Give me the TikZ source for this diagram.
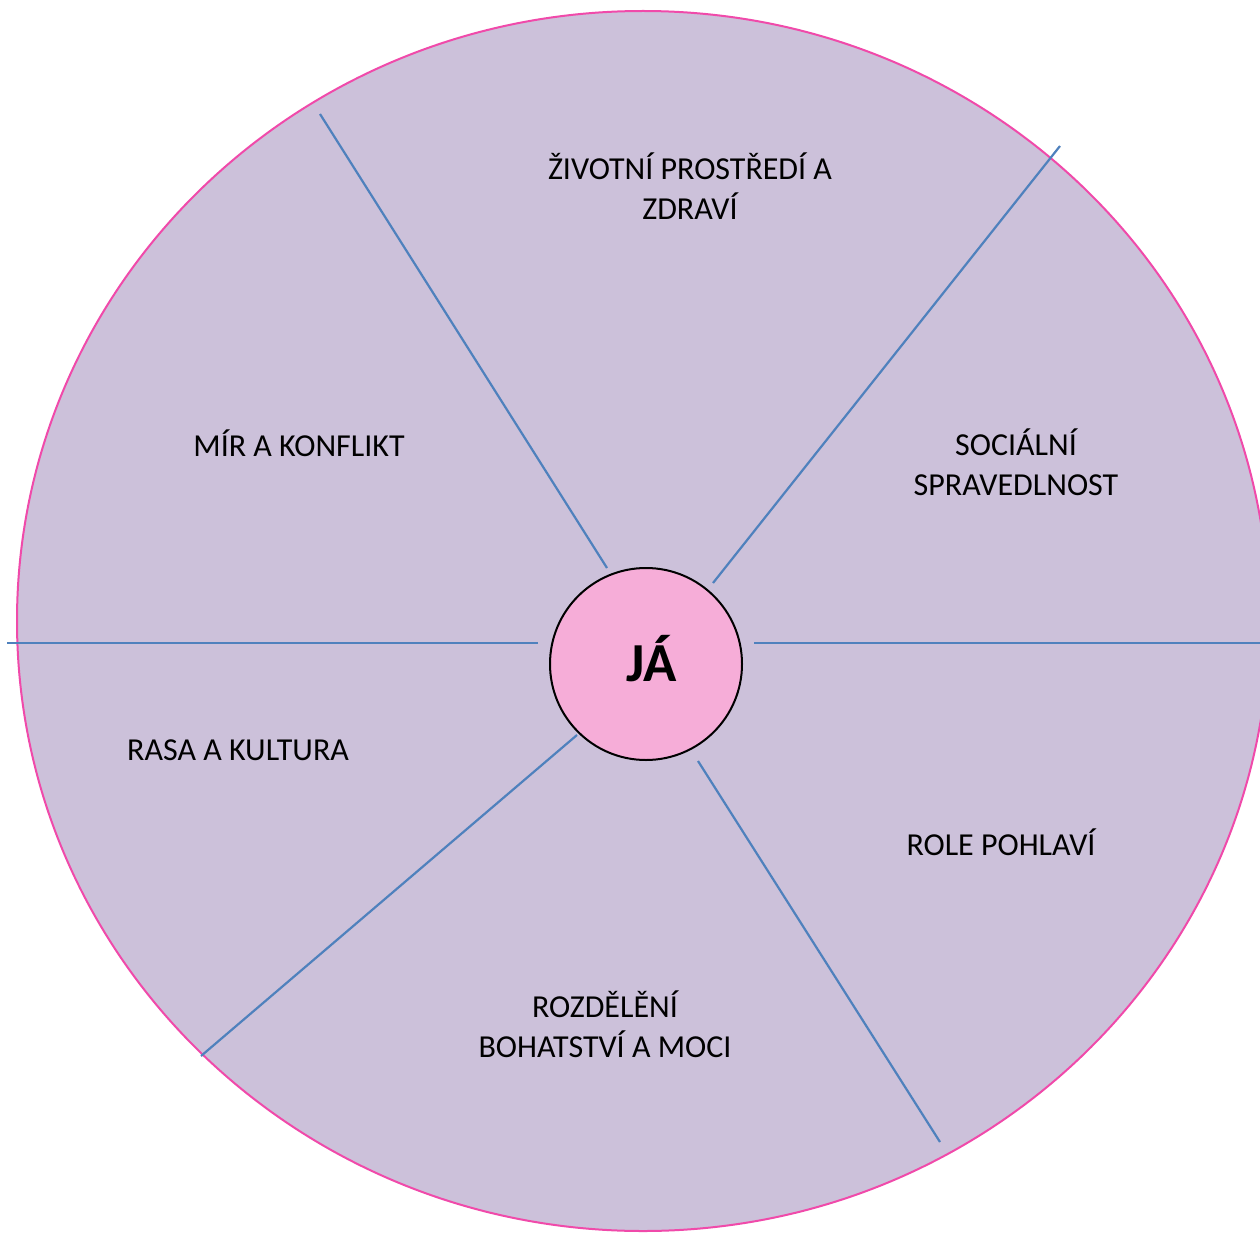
\documentclass[tikz,border=0pt]{standalone}
\usepackage{fontspec}
\setmainfont{Carlito}
\definecolor{lav}{HTML}{CCC1DA}
\definecolor{rim}{HTML}{F04AAA}
\definecolor{spoke}{HTML}{4F81BD}
\definecolor{hub}{HTML}{F6ADD8}
\tikzset{
  spokeline/.style={draw=spoke, line width=2.2pt},
  lbl/.style={font=\fontsize{32}{40}\selectfont, align=center, inner sep=0pt},
}
\begin{document}
\begin{tikzpicture}[x=1pt,y=-1pt]
\useasboundingbox (0,0) rectangle (1260,1233);
\clip (0,0) rectangle (1260,1233);
\fill[lav] (643,621) ellipse [x radius=626, y radius=610];
\draw[rim, line width=2pt] (643,621) ellipse [x radius=626, y radius=610];
% spoke end points
\coordinate (l1) at (7,643);   \coordinate (l2) at (538,643);
\coordinate (r1) at (754,643); \coordinate (r2) at (1270,643);
\coordinate (ul1) at (320,114); \coordinate (ul2) at (607,568);
\coordinate (ur1) at (1060,146); \coordinate (ur2) at (713,583);
\coordinate (ll1) at (577,735); \coordinate (ll2) at (201,1056);
\coordinate (lr1) at (698,761); \coordinate (lr2) at (940,1142);
\draw[spokeline] (l1) -- (l2);
\draw[spokeline] (r1) -- (r2);
\draw[spokeline] (ul1) -- (ul2);
\draw[spokeline] (ur1) -- (ur2);
\draw[spokeline] (ll1) -- (ll2);
\draw[spokeline] (lr1) -- (lr2);
\node[circle, draw=black, line width=2pt, fill=hub, minimum size=192pt, inner sep=0pt] (me) at (646,664) {};
\node[font=\fontsize{55}{60}\selectfont\bfseries, inner sep=0pt] (metext) at (652,659) {JÁ};
\node[lbl] (env) at (690,186) {ŽIVOTNÍ PROSTŘEDÍ A\\ZDRAVÍ};
\node[lbl] (soc) at (1016,462) {SOCIÁLNÍ\\SPRAVEDLNOST};
\node[lbl] (mir) at (299,443) {MÍR A KONFLIKT};
\node[lbl] (rasa) at (238,750) {RASA A KULTURA};
\node[lbl] (role) at (1001,842) {ROLE POHLAVÍ};
\node[lbl] (wealth) at (605,1024) {ROZDĚLĚNÍ\\BOHATSTVÍ A MOCI};
\end{tikzpicture}
\end{document}
